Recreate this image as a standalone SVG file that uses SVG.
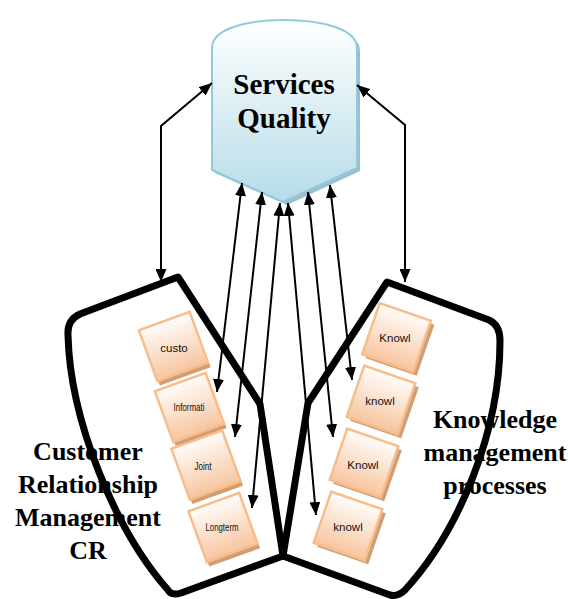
<svg xmlns="http://www.w3.org/2000/svg" width="568" height="599" viewBox="0 0 568 599">
<defs>
<linearGradient id="sq" x1="0" y1="0" x2="0" y2="1">
<stop offset="0" stop-color="#ffffff"/>
<stop offset="1" stop-color="#b6dce7"/>
</linearGradient>
<linearGradient id="bx" x1="0" y1="0" x2="0" y2="1">
<stop offset="0" stop-color="#fffcfa"/>
<stop offset="1" stop-color="#f7c59f"/>
</linearGradient>
<marker id="ah" viewBox="0 0 13 11" refX="13" refY="5.5" markerWidth="13" markerHeight="11" markerUnits="userSpaceOnUse" orient="auto-start-reverse">
<path d="M0,0 L13,5.5 L0,11 Z" fill="#000"/>
</marker>
</defs>
<style>
.big{font-family:"Liberation Serif","Times New Roman",serif;font-weight:bold;font-size:26px;fill:#000;text-anchor:middle}
.title{font-family:"Liberation Serif","Times New Roman",serif;font-weight:bold;font-size:29px;fill:#000;text-anchor:middle}
.bt{font-family:"Liberation Sans",Arial,sans-serif;font-size:11.5px;fill:#111;text-anchor:middle}
.cn{font-family:"Liberation Sans",Arial,sans-serif;font-size:11px;fill:#111;text-anchor:middle}
.cont{fill:none;stroke:#000;stroke-width:7;stroke-linejoin:round}
.sh{fill:#d19d72}
.bf{fill:url(#bx);stroke:#f8bd8a;stroke-width:2.5}
.conn{fill:none;stroke:#000;stroke-width:2;marker-start:url(#ah);marker-end:url(#ah)}
</style>

<!-- big labels (drawn under container outlines) -->
<g id="label-crm">
<text class="big" x="88" y="460">Customer</text>
<text class="big" x="88" y="493">Relationship</text>
<text class="big" x="88" y="526">Management</text>
<text class="big" x="88" y="559">CR</text>
</g>
<g id="label-km">
<text class="big" x="495" y="428">Knowledge</text>
<text class="big" x="495" y="461">management</text>
<text class="big" x="495" y="494">processes</text>
</g>

<!-- containers -->
<g id="crm-container">
<path class="cont" d="M178,277 L260,404 L283,556 L181,593 Q171,596 168,590 C115,530 70,420 68,335 Q67,320 80,314 Z"/>
</g>
<g id="km-container">
<path class="cont" d="M387,282 L489,320 Q500,325 500,341 C500,430 460,530 405,590 Q398,597 390,595 L283,556 L308,403 Z"/>
</g>

<!-- services quality -->
<g id="services-quality">
<path d="M215,51 C215,31 252,23 287,23 C322,23 360,31 360,51 L360,171 L287,205 L215,173 Z" fill="#9bbfcc"/>
<path d="M212,48 C212,28 249,20 284,20 C319,20 357,28 357,48 L357,168 L283,202 L212,170 Z" fill="url(#sq)" stroke="#92cadb" stroke-width="2"/>
<text class="title" x="284" y="94">Services</text>
<text class="title" x="284" y="128">Quality</text>
</g>

<!-- CRM boxes -->
<g id="box-custo">
<rect class="sh" x="-27" y="-27" width="54" height="54" transform="translate(176,351) rotate(-20)"/>
<rect class="bf" x="-27" y="-27" width="54" height="54" transform="translate(173.5,346.5) rotate(-20)"/>
<text class="bt" x="174" y="352">custo</text>
</g>
<g id="box-informati">
<rect class="sh" x="-27" y="-27" width="54" height="54" transform="translate(192,412) rotate(-20)"/>
<rect class="bf" x="-27" y="-27" width="54" height="54" transform="translate(189.5,407.5) rotate(-20)"/>
<text class="cn" x="189" y="411" textLength="31" lengthAdjust="spacingAndGlyphs">Informati</text>
</g>
<g id="box-joint">
<rect class="sh" x="-27" y="-27" width="54" height="54" transform="translate(208.5,469.5) rotate(-20)"/>
<rect class="bf" x="-27" y="-27" width="54" height="54" transform="translate(206,465) rotate(-20)"/>
<text class="cn" x="203" y="470" textLength="17" lengthAdjust="spacingAndGlyphs">Joint</text>
</g>
<g id="box-longterm">
<rect class="sh" x="-27" y="-27" width="54" height="54" transform="translate(225.5,532) rotate(-20)"/>
<rect class="bf" x="-27" y="-27" width="54" height="54" transform="translate(223,527.5) rotate(-20)"/>
<text class="cn" x="222" y="531" textLength="33" lengthAdjust="spacingAndGlyphs">Longterm</text>
</g>

<!-- KM boxes -->
<g id="box-knowl1">
<rect class="sh" x="-27" y="-27" width="54" height="54" transform="translate(400,341.5) rotate(19)"/>
<rect class="bf" x="-27" y="-27" width="54" height="54" transform="translate(396.5,337.5) rotate(19)"/>
<text class="bt" x="395" y="342">Knowl</text>
</g>
<g id="box-knowl2">
<rect class="sh" x="-27" y="-27" width="54" height="54" transform="translate(384.5,404) rotate(19)"/>
<rect class="bf" x="-27" y="-27" width="54" height="54" transform="translate(381,400) rotate(19)"/>
<text class="bt" x="380" y="405">knowl</text>
</g>
<g id="box-knowl3">
<rect class="sh" x="-27" y="-27" width="54" height="54" transform="translate(367.5,467) rotate(19)"/>
<rect class="bf" x="-27" y="-27" width="54" height="54" transform="translate(364,463) rotate(19)"/>
<text class="bt" x="363" y="469">Knowl</text>
</g>
<g id="box-knowl4">
<rect class="sh" x="-27" y="-27" width="54" height="54" transform="translate(351.5,530) rotate(19)"/>
<rect class="bf" x="-27" y="-27" width="54" height="54" transform="translate(348,526) rotate(19)"/>
<text class="bt" x="348" y="531">knowl</text>
</g>

<!-- connectors -->
<g id="connectors">
<polyline class="conn" points="161,282 161,126 212,83"/>
<polyline class="conn" points="405,282 405,125 357,85"/>
<line class="conn" x1="217" y1="392" x2="242" y2="183"/>
<line class="conn" x1="235" y1="437" x2="262" y2="192"/>
<line class="conn" x1="252" y1="508" x2="280" y2="203"/>
<line class="conn" x1="316" y1="515" x2="288" y2="203"/>
<line class="conn" x1="333" y1="437" x2="308" y2="192"/>
<line class="conn" x1="352" y1="380" x2="330" y2="185"/>
</g>
</svg>
